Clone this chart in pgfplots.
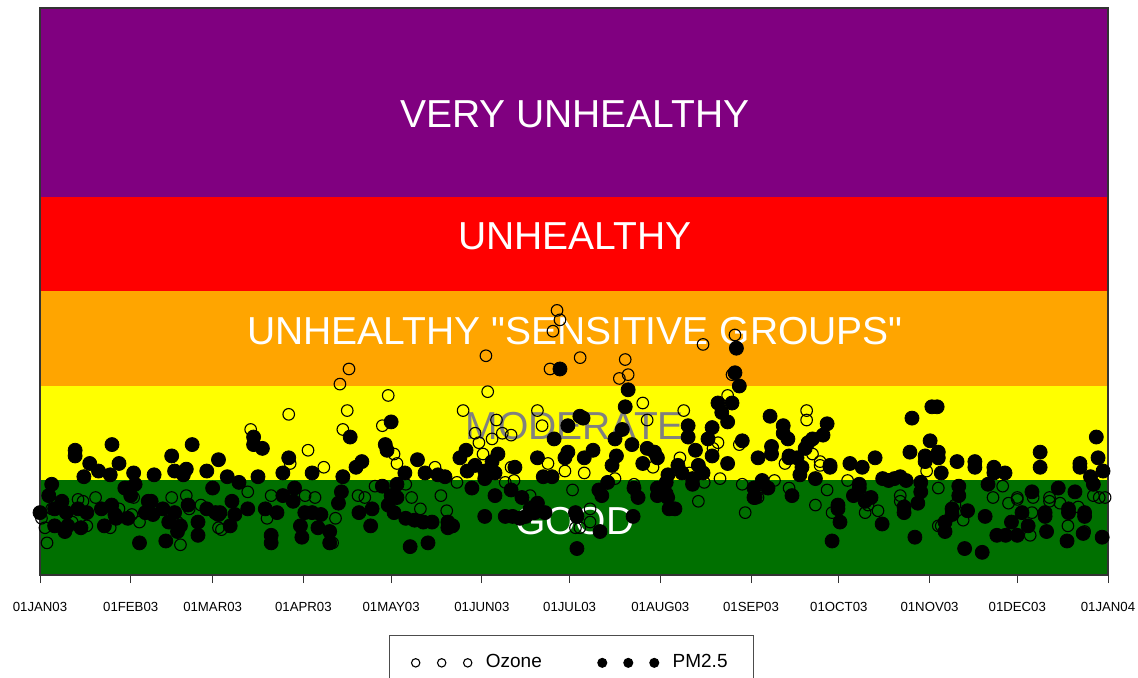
\documentclass[border=0pt]{standalone}
\usepackage{fontspec}
\setmainfont{Liberation Sans}
\newfontfamily\qfont[Ligatures=TeXOff]{Liberation Sans}
\usepackage{pgfplots}
\pgfplotsset{compat=1.18}
\definecolor{aqpurple}{RGB}{128,0,128}
\definecolor{aqred}{RGB}{255,0,0}
\definecolor{aqorange}{RGB}{255,165,0}
\definecolor{aqyellow}{RGB}{255,255,0}
\definecolor{aqgreen}{RGB}{0,112,0}
\definecolor{aqgray}{RGB}{128,128,128}

\pgfplotstableread{
day aqi
1.7 25
2.4 17
0.5 30
19 41
14.7 39
32 41
34 28
45 41
50 42
47 28
48 16
51 35
55 37
16 26
11 28
27 35
61 25
4 35
13 40
24 25
31.4 32
105.6 109
102.5 101
119 95
85 85
105 87
72 77
103.5 77
117 79
91.6 66
121 64
122 59
85.5 59
83 54
97 57
62 24
100 17
71 44
79 42
90.6 42
94 41
108.7 42
111 41
77.6 30
101 30
114.5 47
176.7 140
177.7 135
175.3 129
184.6 115
152.4 116
174.3 109
153 97
144.6 87
170 87
171.6 79
156 82
154.5 72
158 75
161 74
148.7 75
150 70
151.4 64
135 57
173.6 59
179.4 55
161 57
142.5 49
125 48
127 41
130 35
137 42
139 34
159 49
162 50
167.5 42
182 45
183 25
226.6 122
237.5 127
200 114
198 104
201 106
236.5 106
235 95
206 91
207.5 82
220 87
231.7 70
230 67
239 69
218.7 62
209.5 57
186 54
222 54
232.4 51
196.5 51
203 48
223 49
227 49
240 48
225 39
188 35
188 28
241 33
184.5 25
204 42
262 87
262 82
264 64
254.6 59
266.6 60
266.6 58
251 50
256 46
269 45
276 50
265 37
270.7 33
282 33
286.4 34
283 41
283 37
303 55
294 39
294 42
245.4 41
245.4 46
307 26
329 47
325.7 41
334 41
334 40
339.4 41
345 41
345 39
348.6 38
331 38
360 42
362 41
364 41
354.8 36
339 33
308 26
315.5 29
307 46
351.3 26
357 23
338.4 21
312.7 37
}\ozone

\pgfplotstableread{
day aqi
12 66
12 63
24.6 69
17 59
20 55
15 52
24 53
27 59
32 54
39 53
45 63
52 69
46 55
50 56
49 53
57 55
61 61
59 46
4 48
3 42
0 33
5 35
7.5 39
9 33
9.5 26
13 35
16 33
21 35
22 26
24.5 37
26 30
29 46
31 42
32.5 48
30 30
36 33
38 39
38.6 32
42 35
44 28
47 23
48 26
54 21
54 28
57 35
60 33
34 17
43 18
8.5 23
5 26
14 25
25.6 32
37 39
46 33
50.6 37
61 32
120 81
106 73
73 73
73 69
76 67
118 69
118.6 66
85 62
83 54
110 60
108 57
93 54
103.5 52
74.5 52
64 52
68 49
122 48
121 33
65.6 39
66.6 32
71 35
77 35
81 33
83 42
87 46
86.5 39
90.5 33
89 26
89.5 20
79 21
79 17
93 33
96 32
95 25
99 23
99 17
103 44
102 38
109 33
113 26
113.5 35
117 47
120 42
119 37
61.5 33
65 26
177.7 109
180.4 79
175.7 72
184.5 84
129 61
145.6 66
143.5 62
156.5 64
154.5 60
170 62
180.4 65
179.4 62
162.3 57
124.7 54
131.6 54
136 53
138.4 52
146 55
148.7 58
152 55
152 51
155.5 54
172 52
175 52
147.6 46
155.5 42
161 45
164.7 41
167.5 35
170 38
159 31
161.5 31
164 30
166 31
169 33
172.6 33
183 33
183.5 14
152 31
122 41
125 30
128 29
131 28
134 28
139.4 28
139.4 25
141 26
126.5 15
132.6 17
238 120
237.5 107
239 100
201 98
200 89
185.6 83
231.7 91
236.5 91
233 86
235 81
221.5 79
221.5 73
196.5 72
199 77
202.3 69
207.5 67
210 65
240 71
229.7 78
228.3 72
224 66
229.7 63
225 58
189 66
186 62
197 63
195.5 58
206 59
211 62
235 59
218 58
226.6 54
214.6 53
194 49
191 45
192 42
214 49
214 43
214.5 41
215 35
217 35
211 46
211 42
203 46
204.4 41
191.4 23
202.7 31
244 46
244 41
223 51
223 48
219.4 54
183.5 31
249.5 84
254 79
254 75
269 80
267.6 74
264 72
255.6 72
262.5 70
261.5 67
250 68
250 64
245.4 62
256 63
256 62
258.7 62
260.4 57
270 58
270 57
259.7 53
276.8 59
281 57
285.4 62
297.3 65
298 83
304.8 89
304.2 71
302.5 63
302.5 60
246.8 50
248.8 46
265 51
288 51
290 50
292 51
294 52
296 50
280 48
280 46
301 49
301 44
272.7 35
272.7 37
278 42
282 39
284 41
295.3 36
295.3 33
300 38
273.4 28
257 42
287.8 27
270.7 18
299 20
244.4 41
306.6 89
361 73
307 65
307 62
313.4 60
319.5 60
319.5 57
326 57
326 54
329.8 54
341.8 65
341.8 57
361.6 62
355.4 59
355.4 57
363.3 55
359 52
308 54
314 47
314 42
324 48
339 44
348 46
353.7 44
360 48
311.7 35
311.7 32
309.3 28
309.3 23
317 34
323 31
332 28
335.6 33
337.7 26
327 21
330 21
334 21
344 23
351 18
356.5 22
363 20
316 14
322 12
343.5 33
343.5 31
351.5 33
351.5 35
357 31
357 33
}\pmtwofive

\begin{document}
\begin{tikzpicture}
\useasboundingbox (-20pt,-51.5pt) rectangle (549pt,287.5pt);
\begin{axis}[
  scale only axis,
  width=534pt, height=283.5pt,
  xmin=0, xmax=365, ymin=0, ymax=300,
  axis on top,
  ytick=\empty,
  xtick={0,31,59,90,120,151,181,212,243,273,304,334,365},
  xticklabels={01JAN03,01FEB03,01MAR03,01APR03,01MAY03,01JUN03,01JUL03,01AUG03,01SEP03,01OCT03,01NOV03,01DEC03,01JAN04},
  xtick pos=left,
  tick align=outside,
  major tick length=4pt,
  tick style={black!80, line width=0.5pt},
  xticklabel style={font=\fontsize{6.6}{7}\selectfont, yshift=-6pt},
  axis line style={black!80, line width=0.7pt},
  clip=false,
  legend columns=2,
  legend style={at={(0.4977,-0.106)}, anchor=north, draw=black!70, line width=0.6pt,
    font=\fontsize{9.5}{10}\selectfont, inner xsep=11pt, inner ysep=7.5pt,
    /tikz/every odd column/.append style={column sep=5pt},
    /tikz/every even column/.append style={column sep=26pt}},
]
\fill[aqgreen] (axis cs:0,0) rectangle (axis cs:365,50);
\fill[aqyellow] (axis cs:0,50) rectangle (axis cs:365,100);
\fill[aqorange] (axis cs:0,100) rectangle (axis cs:365,150);
\fill[aqred] (axis cs:0,150) rectangle (axis cs:365,200);
\fill[aqpurple] (axis cs:0,200) rectangle (axis cs:365,300);
\node[text=white, font=\fontsize{19.5}{20}\selectfont] at (axis cs:182.8,244) {VERY UNHEALTHY};
\node[text=white, font=\fontsize{19.5}{20}\selectfont] at (axis cs:182.8,179) {UNHEALTHY};
\node[text=white, font=\qfont\fontsize{19.5}{20}\selectfont] at (axis cs:182.8,129) {UNHEALTHY "SENSITIVE GROUPS"};
\node[text=aqgray, font=\fontsize{19.5}{20}\selectfont] at (axis cs:182.8,79) {MODERATE};
\node[text=white, font=\fontsize{19.5}{20}\selectfont] at (axis cs:182.8,28.5) {GOOD};
\addplot[only marks, mark=o, mark size=2.9pt, mark options={draw=black, line width=0.55pt},
  legend image code/.code={\draw[mark size=2.1pt] plot coordinates {(0pt,0pt) (13pt,0pt) (26pt,0pt)};}]
  table[x=day, y=aqi] {\ozone};
\addlegendentry{Ozone}
\addplot[only marks, mark=*, mark size=3.5pt, mark options={draw=black, fill=black},
  legend image code/.code={\draw[mark size=2.2pt] plot coordinates {(0pt,0pt) (13pt,0pt) (26pt,0pt)};}]
  table[x=day, y=aqi] {\pmtwofive};
\addlegendentry{PM2.5\hspace{14pt}}
\end{axis}
\end{tikzpicture}
\end{document}
